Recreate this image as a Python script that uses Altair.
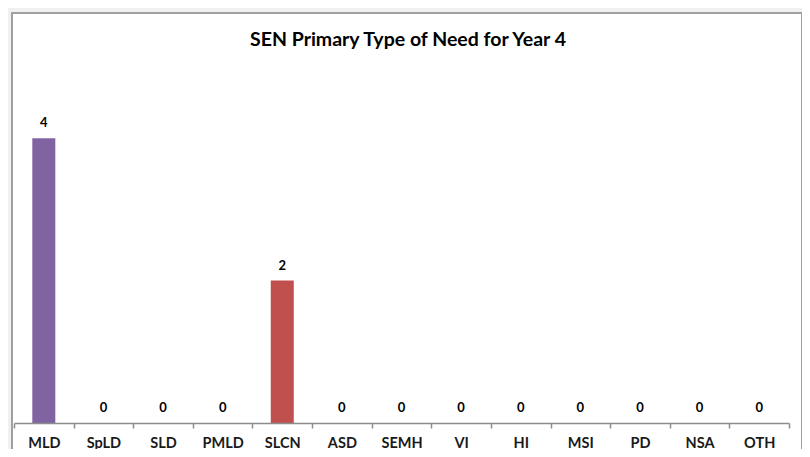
import altair as alt
import pandas as pd

categories = ["MLD", "SpLD", "SLD", "PMLD", "SLCN", "ASD", "SEMH", "VI", "HI", "MSI", "PD", "NSA", "OTH"]
counts = [4, 0, 0, 0, 2, 0, 0, 0, 0, 0, 0, 0, 0]
bar_colors = ["#8064a2", "#4f81bd", "#9bbb59", "#4bacc6", "#c0504d", "#f79646",
              "#2c4d75", "#772c2a", "#5f7530", "#4d3b62", "#276a7c", "#b65708", "#729aca"]
chart_title = "SEN Primary Type of Need for Year 4"

df = pd.DataFrame({"need": categories, "count": counts})

FONT = "Lato"
W, H = 775, 356

frame = alt.Chart(alt.Data(values=[{"f": 1}])).mark_rect(
    fill="white", stroke="#a0a0a0", strokeWidth=2
).encode(
    x=alt.value(-2), x2=alt.value(788), y=alt.value(-54), y2=alt.value(420)
)

title_txt = alt.Chart(alt.Data(values=[{"t": chart_title}])).mark_text(
    font=FONT, fontSize=19.5, fontWeight="bold", color="#000000", baseline="middle", align="center"
).encode(x=alt.value(394), y=alt.value(-27), text="t:N")

xenc = alt.X("need:N", sort=categories, title=None,
             scale=alt.Scale(paddingInner=0, paddingOuter=0),
             axis=alt.Axis(labelAngle=0, labelFont=FONT, labelFontSize=14.5, labelFontWeight="bold",
                           labelColor="#1a1a1a", domainColor="#8c8c8c", tickColor="#8c8c8c",
                           domainWidth=1.5, tickWidth=1.5, tickSize=5, tickBand="extent",
                           labelBaseline="alphabetic", labelPadding=19, grid=False, zindex=2))
yenc = alt.Y("count:Q", scale=alt.Scale(domain=[0, 5]), axis=None)

bars = alt.Chart(df).mark_bar(size=23).encode(
    x=xenc, y=yenc,
    color=alt.Color("need:N", scale=alt.Scale(domain=categories, range=bar_colors), legend=None),
)

labels = alt.Chart(df).mark_text(
    font=FONT, fontSize=13, fontWeight="bold", color="#000000", baseline="alphabetic", dy=-11
).encode(x=xenc, y=yenc, text="count:Q")

chart = alt.layer(frame, title_txt, bars, labels).properties(
    width=W, height=H,
    background="#f0f0f0",
    padding={"left": 6, "top": 59, "right": 13, "bottom": 26},
    autosize=alt.AutoSizeParams(type="none"),
).configure_view(stroke=None)

chart.save("out.html", embed_options={"renderer": "svg", "actions": False})
